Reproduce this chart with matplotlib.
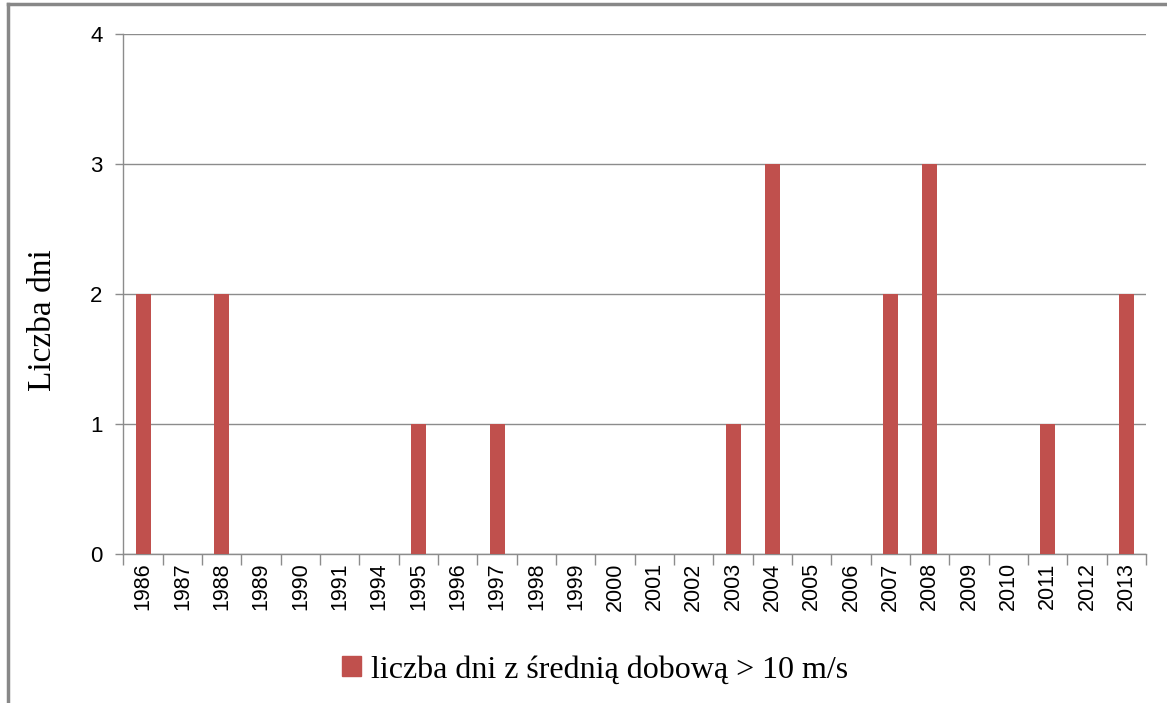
import matplotlib.pyplot as plt
from matplotlib.lines import Line2D
from matplotlib.patches import Patch

# data
years = ['1986', '1987', '1988', '1989', '1990', '1991', '1994', '1995', '1996',
         '1997', '1998', '1999', '2000', '2001', '2002', '2003', '2004', '2005',
         '2006', '2007', '2008', '2009', '2010', '2011', '2012', '2013']
days = [2, 0, 2, 0, 0, 0, 0, 1, 0, 1, 0, 0, 0, 0, 0, 1, 3, 0, 0, 2, 3, 0, 0, 1, 0, 2]
series_name = 'liczba dni z średnią dobową > 10 m/s'

bar_color = '#C0504D'
grid_color = '#8C8C8C'

fig = plt.figure(figsize=(11.67, 7.03), dpi=100)
ax = fig.add_axes([0.1058, 0.212, 0.8762, 0.7396])

x = range(len(years))
ax.bar(x, days, width=0.38, color=bar_color, zorder=3)

ax.set_xlim(-0.5, len(years) - 0.5)
ax.set_ylim(0, 4)
ax.set_yticks([0, 1, 2, 3, 4])
ax.yaxis.grid(True, color=grid_color, linewidth=1)
ax.set_axisbelow(True)

# category ticks sit between the bars, labels under each bar
ax.set_xticks([i - 0.5 for i in range(len(years) + 1)])
ax.set_xticklabels([])
ax.set_xticks(list(x), minor=True)
ax.set_xticklabels(years, minor=True, rotation=90, fontsize=15.5,
                   fontfamily='Liberation Sans')
ax.tick_params(axis='x', which='major', length=8, color=grid_color, width=1)
ax.tick_params(axis='x', which='minor', length=0, pad=6)
ax.tick_params(axis='y', length=6, color=grid_color, width=1, pad=9,
               labelsize=16)
for lab in ax.get_yticklabels():
    lab.set_fontfamily('Liberation Sans')

for side in ['top', 'right']:
    ax.spines[side].set_visible(False)
for side in ['left', 'bottom']:
    ax.spines[side].set_color(grid_color)
    ax.spines[side].set_linewidth(1)

ax.set_ylabel('Liczba dni', fontsize=24, fontfamily='Liberation Serif')
ax.yaxis.set_label_coords(-0.064, 0.45)

leg = fig.legend(handles=[Patch(color=bar_color, label=series_name)],
                 loc='center', bbox_to_anchor=(0.51, 0.047), frameon=False,
                 prop={'family': 'Liberation Serif', 'size': 23},
                 handlelength=0.6, handleheight=0.6, handletextpad=0.3)

# outer chart frame (only top and left edges visible)
fig.add_artist(Line2D([0.007, 0.007], [0.0, 0.994], color='#888888', lw=2.5))
fig.add_artist(Line2D([0.007, 1.0], [0.994, 0.994], color='#888888', lw=2.5))

fig.savefig('out.png', dpi=100)
